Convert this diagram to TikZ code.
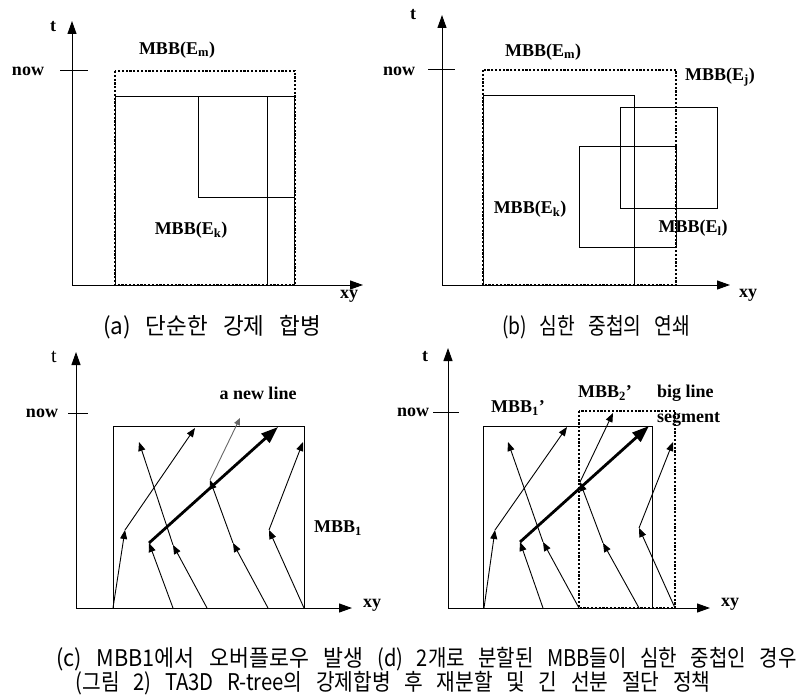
\documentclass[tikz,border=0pt]{standalone}
\usepackage{fontspec}
\usepackage{graphicx}
\setmainfont{Liberation Serif}
\newfontfamily\krfont[WordSpace=3]{Noto Sans CJK KR}
\usetikzlibrary{arrows.meta}
\newcommand\fitw[2]{\resizebox{#1pt}{\height}{#2}}
\tikzset{
  ax/.style={line width=1pt, -{Triangle[length=13pt,width=9pt]}},
  seg/.style={line width=0.9pt, -{Triangle[length=9pt,width=7pt]}},
  bigseg/.style={line width=2.8pt, -{Triangle[length=17pt,width=12pt]}},
  solidbox/.style={line width=1pt},
  dotbox/.style={line width=2.6pt, dash pattern=on 2.2pt off 1.6pt},
  ticker/.style={line width=1pt},
  lbl/.style={font=\fontsize{18}{20}\selectfont\bfseries, inner sep=0pt},
  krcap/.style={font=\krfont\fontsize{23}{25}\selectfont, inner sep=0pt}
}
\begin{document}
\begin{tikzpicture}[x=1pt,y=-1pt]
\useasboundingbox (0,0) rectangle (802,698);

% ---------- (a)
\coordinate (aO) at (72,285);
\coordinate (aT) at (72,21);
\coordinate (aX) at (363,285);
\coordinate (aN1) at (60,71);
\coordinate (aN2) at (88,71);
\draw[ax] (aO) -- (aT);
\draw[ax] (aO) -- (aX);
\draw[ticker] (aN1) -- (aN2);
\node[lbl] (at) at (53,27) {t};
\node[lbl] (anow) at (28,71) {now};
\node[lbl] (axy) at (349,296) {xy};
\draw[solidbox] (115,97) rectangle (294,285);
\draw[solidbox] (198,97) rectangle (294,197);
\draw[solidbox] (267,97) -- (267,285);
\draw[dotbox] (115,71) rectangle (295,285);
\node[lbl] (aEm) at (177,50) {MBB(E\textsubscript{m})};
\node[lbl] (aEk) at (191,230) {MBB(E\textsubscript{k})};
\node[krcap] (capa) at (212,327) {\fitw{218}{(a) 단순한 강제 합병}};

% ---------- (b)
\coordinate (bO) at (442,285);
\coordinate (bT) at (442,15);
\coordinate (bX) at (730,285);
\coordinate (bN1) at (428,70);
\coordinate (bN2) at (455,70);
\draw[ax] (bO) -- (bT);
\draw[ax] (bO) -- (bX);
\draw[ticker] (bN1) -- (bN2);
\node[lbl] (bt) at (413,15) {t};
\node[lbl] (bnow) at (399,71) {now};
\node[lbl] (bxy) at (748,295) {xy};
\draw[solidbox] (483,96) rectangle (634,285);
\draw[solidbox] (620,108) rectangle (717,208);
\draw[solidbox] (579,146) rectangle (676,247);
\draw[dotbox] (483,70) rectangle (676,285);
\node[lbl] (bEm) at (543,52) {MBB(E\textsubscript{m})};
\node[lbl] (bEj) at (720,77) {MBB(E\textsubscript{j})};
\node[lbl] (bEk) at (530,209) {MBB(E\textsubscript{k})};
\node[lbl] (bEl) at (693,228) {MBB(E\textsubscript{l})};
\node[krcap] (capb) at (596,327) {\fitw{188}{(b) 심한 중첩의 연쇄}};

% ---------- (c)
\coordinate (cO) at (76,608);
\coordinate (cT) at (76,352);
\coordinate (cX) at (352,608);
\coordinate (cN1) at (68,413);
\coordinate (cN2) at (88,413);
\draw[ax] (cO) -- (cT);
\draw[ax] (cO) -- (cX);
\draw[ticker] (cN1) -- (cN2);
\node[inner sep=0pt, font=\fontsize{20}{22}\selectfont] (ct) at (54,357) {t};
\node[lbl] (cnow) at (42,413) {now};
\node[lbl] (cxy) at (372,605) {xy};
\draw[solidbox] (113,426) rectangle (304,608);
\coordinate (c1a) at (113,608); \coordinate (c1b) at (125,530); \coordinate (c1c) at (195,428);
\coordinate (c2a) at (173,608); \coordinate (c2b) at (149,543); \coordinate (c2c) at (278,427);
\coordinate (c3a) at (207,608); \coordinate (c3b) at (173,545); \coordinate (c3c) at (139,442);
\coordinate (c4a) at (268,608); \coordinate (c4b) at (233,543); \coordinate (c4c) at (210,480); \coordinate (c4d) at (240,418);
\coordinate (c5a) at (304,608); \coordinate (c5b) at (269,530); \coordinate (c5c) at (303,442);
\draw[seg] (c1a) -- (c1b); \draw[seg] (c1b) -- (c1c);
\draw[seg] (c2a) -- (c2b); \draw[bigseg] (c2b) -- (c2c);
\draw[seg] (c3a) -- (c3b); \draw[seg] (c3b) -- (c3c);
\draw[seg] (c4a) -- (c4b); \draw[seg] (c4b) -- (c4c); \draw[line width=0.9pt, -{Triangle[length=7pt,width=6pt]}, black!60] (c4c) -- (c4d);
\draw[seg] (c5a) -- (c5b); \draw[seg] (c5b) -- (c5c);
\node[lbl] (cnew) at (258,393) {a new line};
\node[lbl] (cmbb) at (338,528) {MBB\textsubscript{1}};
\node[krcap] (capc) at (210,659) {\fitw{307}{(c) MBB1에서 오버플로우 발생}};

% ---------- (d)
\coordinate (dO) at (448,608);
\coordinate (dT) at (448,348);
\coordinate (dX) at (710,608);
\coordinate (dN1) at (433,412);
\coordinate (dN2) at (459,412);
\draw[ax] (dO) -- (dT);
\draw[ax] (dO) -- (dX);
\draw[ticker] (dN1) -- (dN2);
\node[lbl] (dt) at (425,357) {t};
\node[lbl] (dnow) at (413,412) {now};
\node[lbl] (dxy) at (730,604) {xy};
\draw[solidbox] (483,426) rectangle (652,608);
\coordinate (d1a) at (484,608); \coordinate (d1b) at (495,530); \coordinate (d1c) at (567,427);
\coordinate (d2a) at (543,608); \coordinate (d2b) at (520,542); \coordinate (d2c) at (649,426);
\coordinate (d3a) at (579,608); \coordinate (d3b) at (543,542); \coordinate (d3c) at (508,442);
\coordinate (d4a) at (639,608); \coordinate (d4b) at (603,543); \coordinate (d4c) at (580,482); \coordinate (d4d) at (613,413);
\coordinate (d5a) at (675,608); \coordinate (d5b) at (639,528); \coordinate (d5c) at (673,442);
\draw[seg] (d1a) -- (d1b); \draw[seg] (d1b) -- (d1c);
\draw[seg] (d2a) -- (d2b); \draw[bigseg] (d2b) -- (d2c);
\draw[seg] (d3a) -- (d3b); \draw[seg] (d3b) -- (d3c);
\draw[seg] (d4a) -- (d4b); \draw[seg] (d4b) -- (d4c); \draw[seg] (d4c) -- (d4d);
\draw[seg] (d5a) -- (d5b); \draw[seg] (d5b) -- (d5c);
\draw[dotbox] (579,411) rectangle (675,608);
\node[lbl] (dm1) at (518,408) {MBB\textsubscript{1}’};
\node[lbl] (dm2) at (605,393) {MBB\textsubscript{2}’};
\node[lbl, anchor=west] (dbig) at (657,393) {big line};
\node[lbl, anchor=west] (dsegm) at (657,419) {segment};
\node[krcap] (capd) at (587,659) {\fitw{419}{(d) 2개로 분할된 MBB들이 심한 중첩인 경우}};

% ---------- title
\node[krcap] (title) at (393,683) {\fitw{635}{(그림 2) TA3D R-tree의 강제합병 후 재분할 및 긴 선분 절단 정책}};
\end{tikzpicture}
\end{document}
